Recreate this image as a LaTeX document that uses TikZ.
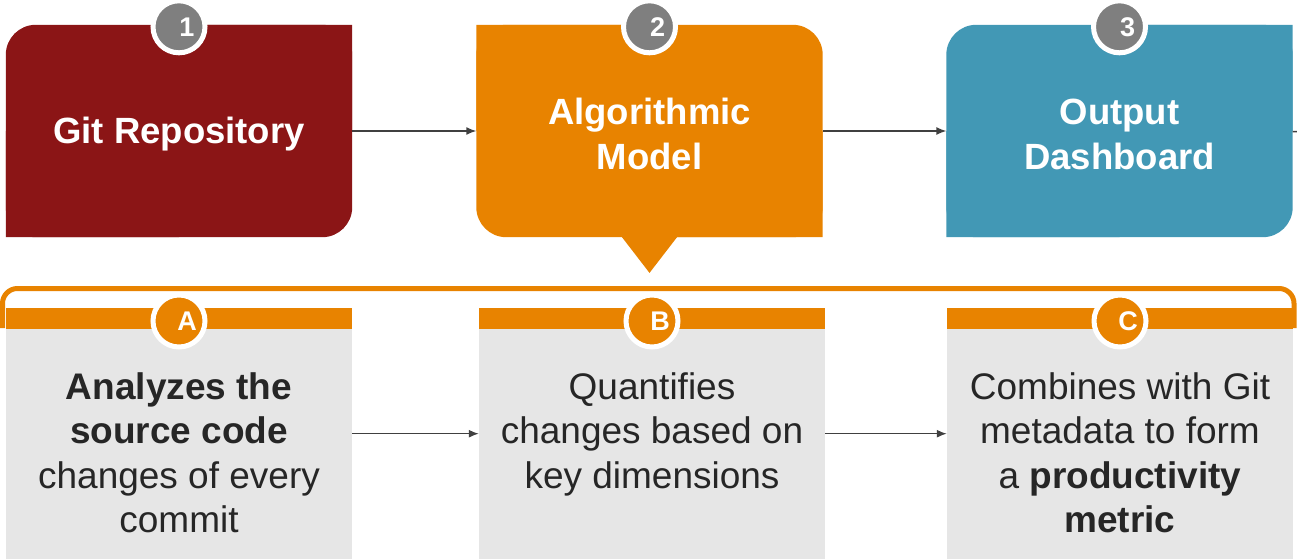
\documentclass[tikz,border=0pt]{standalone}
\usepackage{fontspec}
\setmainfont{Liberation Sans}
\usetikzlibrary{positioning,backgrounds,arrows.meta}

\definecolor{gitred}{RGB}{139,21,22}
\definecolor{algoorange}{RGB}{232,131,0}
\definecolor{dashblue}{RGB}{66,152,181}
\definecolor{numgray}{RGB}{127,127,127}
\definecolor{panegray}{RGB}{230,230,230}
\definecolor{inkgray}{RGB}{38,38,38}

\begin{document}
\begin{tikzpicture}[x=1pt, y=-1pt,
        topbox/.style={minimum width=346pt, minimum height=212pt, inner sep=0pt},
        toptext/.style={align=center, inner sep=0pt, text=white, yshift=-3pt, font=\fontsize{36.5}{45}\selectfont\bfseries},
        pane/.style={fill=panegray, minimum width=346pt, minimum height=251pt, inner sep=0pt, anchor=north},
        panetext/.style={anchor=north, align=center, inner sep=0pt, text=inkgray, font=\fontsize{37}{44.5}\selectfont},
        badge/.style={circle, draw=white, line width=5pt, minimum size=52pt, inner sep=0pt, text=white,
            font=\fontsize{27}{27}\selectfont\bfseries, execute at begin node={\hspace*{16pt}}},
        flow/.style={-{Latex[length=10pt,width=8pt]}, draw=black!75, line width=1.4pt}]
    \useasboundingbox (0,0) rectangle (1297,559);

    % top row
    \node[topbox, label={[toptext]center:Git Repository}] (repo) at (179,131) {};
    \node[topbox, label={[toptext]center:Algorithmic\\Model}] (model) at (649.5,131) {};
    \node[topbox, label={[toptext]center:Output\\Dashboard}] (dash) at (1119.5,131) {};
    \begin{scope}[on background layer]
        \fill[gitred, rounded corners=30pt] (repo.south west) rectangle (repo.north east);
        \fill[gitred] (repo.north east) rectangle (repo.center) (repo.south west) rectangle (repo.center);
        \fill[algoorange, rounded corners=30pt] (model.south west) rectangle (model.north east);
        \fill[algoorange] (model.north west) rectangle (model.center) (model.south east) rectangle (model.center);
        \fill[algoorange] ([xshift=-27.5pt]model.south) -- ([xshift=27.5pt]model.south) -- ([yshift=-35.7pt]model.south) -- cycle;
        \fill[dashblue, rounded corners=30pt] (dash.south west) rectangle (dash.north east);
        \fill[dashblue] (dash.north east) rectangle (dash.center) (dash.south west) rectangle (dash.center);
    \end{scope}
    \node[badge, fill=numgray] (n1) at ([yshift=-2pt]repo.north) {1};
    \node[badge, fill=numgray] (n2) at ([yshift=-2pt]model.north) {2};
    \node[badge, fill=numgray] (n3) at ([yshift=-2pt]dash.north) {3};
    \coordinate (offpage) at (1297,131.7);
    \draw[flow] (repo) -- (model);
    \draw[flow] (model) -- (dash);
    \draw[draw=black!75, line width=1.4pt] (dash) -- (offpage);

    % bottom row
    \node[pane] (panea) at (179,308) {};
    \node[pane] (paneb) at (652,308) {};
    \node[pane] (panec) at (1120,308) {};
    \foreach \p in {panea,paneb,panec}
        \fill[algoorange] (\p.north west) rectangle ([yshift=-21pt]\p.north east);
    \draw[algoorange, line width=5pt, rounded corners=15pt] (2.5,328) -- (2.5,288.5) -- (1294,288.5) -- (1294,328);
    \node[badge, fill=algoorange] (la) at ([yshift=-13pt]panea.north) {A};
    \node[badge, fill=algoorange] (lb) at ([yshift=-13pt]paneb.north) {B};
    \node[badge, fill=algoorange] (lc) at ([yshift=-13pt]panec.north) {C};

    \node[panetext] (ta) at ([yshift=-64pt]panea.north) {\textbf{Analyzes the}\\\textbf{source code}\\changes of every\\commit};
    \node[panetext] (tb) at ([yshift=-64pt]paneb.north) {Quantifies\\changes based on\\key dimensions};
    \node[panetext] (tc) at ([yshift=-64pt]panec.north) {Combines with Git\\metadata to form\\a \textbf{productivity}\\\textbf{metric}};
    \draw[flow] (panea) -- (paneb);
    \draw[flow] (paneb) -- (panec);
\end{tikzpicture}
\end{document}
